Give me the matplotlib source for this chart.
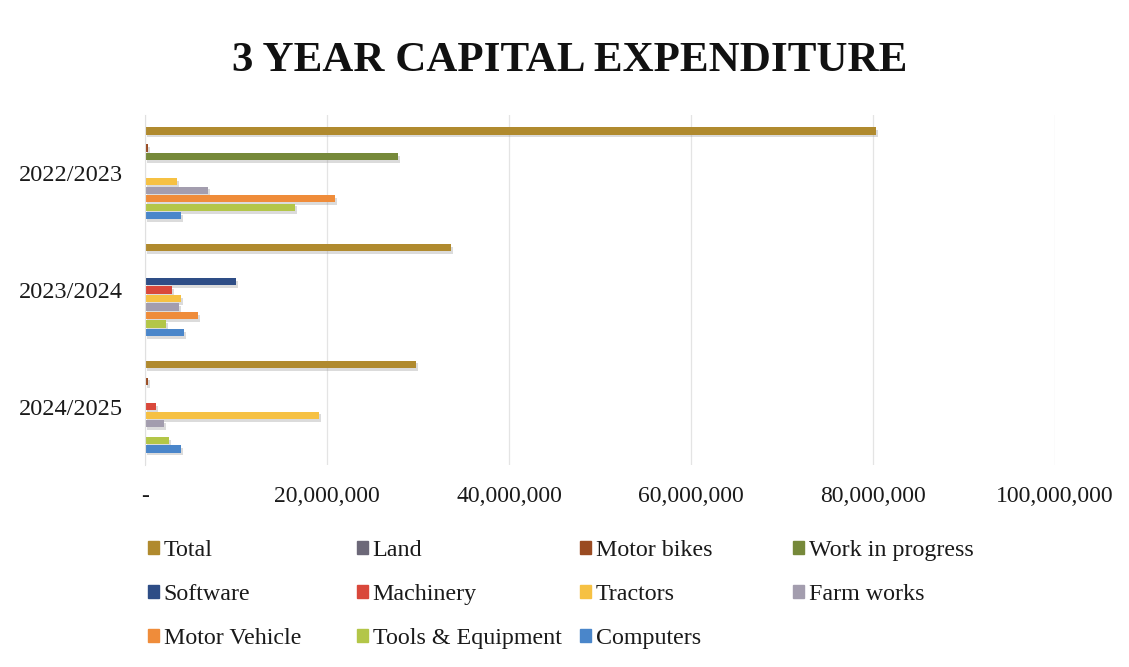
import numpy as np
import matplotlib
matplotlib.use("Agg")
import matplotlib.pyplot as plt
import matplotlib.patheffects as pe
from matplotlib.patches import Rectangle
from matplotlib.ticker import FuncFormatter

plt.rcParams['font.family'] = ['Liberation Serif', 'DejaVu Serif']

# data
years = ['2022/2023', '2023/2024', '2024/2025']
series = ['Total', 'Land', 'Motor bikes', 'Work in progress', 'Software',
          'Machinery', 'Tractors', 'Farm works', 'Motor Vehicle',
          'Tools & Equipment', 'Computers']
total = [80.3e6, 33.6e6, 29.8e6]
land = [0, 0, 0]
motor_bikes = [0.3e6, 0, 0.3e6]
work_in_progress = [27.8e6, 0, 0]
software = [0, 10.0e6, 0]
machinery = [0, 3.0e6, 1.2e6]
tractors = [3.5e6, 4.0e6, 19.1e6]
farm_works = [6.9e6, 3.7e6, 2.1e6]
motor_vehicle = [20.9e6, 5.8e6, 0]
tools = [16.5e6, 2.3e6, 2.6e6]
computers = [4.0e6, 4.3e6, 4.0e6]
values = [total, land, motor_bikes, work_in_progress, software, machinery,
          tractors, farm_works, motor_vehicle, tools, computers]
colors = ['#B08A2E', '#6C6878', '#9A4B22', '#76893A', '#2E4D86', '#D9483B',
          '#F6C143', '#A39DAE', '#EF8C3A', '#B3C648', '#4A86CA']

fig = plt.figure(figsize=(11.29, 6.67), dpi=100)
ax = fig.add_axes([0.1284, 0.3028, 0.806, 0.5248])

y = np.arange(len(years))
pitch = 0.0726
shadow = [pe.SimplePatchShadow(offset=(1.5, -2), shadow_rgbFace='#999999', alpha=0.35), pe.Normal()]
for i, (name, vals) in enumerate(zip(series, values)):
    bars = ax.barh(y + (i - 5) * pitch, vals, height=0.062, color=colors[i], label=name)
    for b in bars:
        if b.get_width() > 0:
            b.set_path_effects(shadow)

ax.set_xlim(0, 100e6)
ax.set_ylim(2.5, -0.5)
ax.set_yticks(y)
ax.set_yticklabels(years)
ax.set_xticks(np.arange(0, 100e6 + 1, 20e6))
ax.xaxis.set_major_formatter(FuncFormatter(lambda v, p: '-' if v == 0 else f'{v:,.0f}'))
ax.tick_params(axis='both', length=0, colors='#1a1a1a')
ax.tick_params(axis='x', pad=15, labelsize=17)
ax.tick_params(axis='y', pad=16, labelsize=17.5)
for lab in ax.get_yticklabels():
    lab.set_y(lab.get_position()[1])
ax.grid(axis='x', color='#e4e4e4', linewidth=0.9)
ax.set_axisbelow(True)
for s in ['top', 'right', 'bottom']:
    ax.spines[s].set_visible(False)
ax.spines['left'].set_color('#e0e0e0')

fig.text(0.505, 0.908, '3 YEAR CAPITAL EXPENDITURE', ha='center', va='center',
         fontsize=31, fontweight='bold', color='#111111')

# legend laid out in four columns like the original
columns = [[0, 4, 8], [1, 5, 9], [2, 6, 10], [3, 7]]
col_x = [148, 357, 580, 793]
for cx, idx in zip(col_x, columns):
    handles = [Rectangle((0, 0), 1, 1, color=colors[k]) for k in idx]
    leg = fig.legend(handles, [series[k] for k in idx], loc='upper left',
                     bbox_to_anchor=(cx / 1129, 1 - 540 / 667), frameon=False,
                     fontsize=17.3, handlelength=0.45, handleheight=0.45,
                     handletextpad=0.2, labelspacing=0.95, borderpad=0,
                     borderaxespad=0)
    for t in leg.get_texts():
        t.set_color('#1a1a1a')

fig.savefig('out.png', dpi=100, facecolor='white')
